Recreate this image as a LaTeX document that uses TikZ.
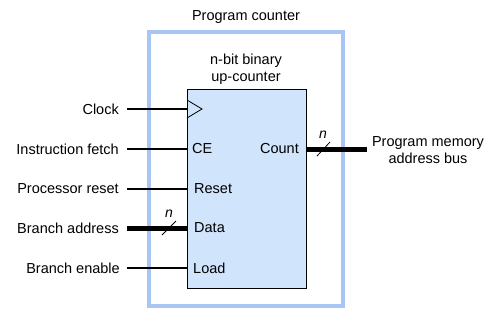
\documentclass[tikz,border=0pt]{standalone}
\usepackage{fontspec}
\setmainfont{Liberation Sans}
\begin{document}
\begin{tikzpicture}[x=1pt,y=-1pt,
  lbl/.style={font=\fontsize{14.5}{17}\selectfont, inner sep=0pt},
  sig/.style={line width=2pt},
  bus/.style={line width=5pt},
  slash/.style={line width=0.8pt},
  nlbl/.style={font=\fontsize{14}{15}\selectfont\itshape, inner sep=0pt}]
\useasboundingbox (0,0) rectangle (500,325);
\definecolor{outerblue}{HTML}{A9C5F5}
\definecolor{innerblue}{HTML}{D0E4FB}
% outer frame
\node[draw=outerblue, line width=4.5pt, minimum width=194pt, minimum height=274pt, inner sep=0pt] (pc) at (246,169) {};
\node[lbl] (pctitle) at (246,17) {Program counter};
% counter box
\node[draw=black, line width=0.8pt, fill=innerblue, minimum width=119pt, minimum height=199pt, inner sep=0pt] (cnt) at (246.5,189) {};
\node[lbl, align=center] (cnttitle) at (246,69) {n-bit binary\\up-counter};
% clock triangle
\coordinate (ck) at (187,109);
\draw[line width=0.8pt] (187,100) -- (202,109) -- (187,118);
% input port labels
\node[lbl, anchor=west] (ce) at (192,149) {CE};
\node[lbl, anchor=west] (rst) at (194,189) {Reset};
\node[lbl, anchor=west] (data) at (194,228) {Data};
\node[lbl, anchor=west] (load) at (193,268) {Load};
\node[lbl, anchor=east] (count) at (299,149) {Count};
% left labels
\node[lbl, anchor=east] (lclk) at (119,109) {Clock};
\node[lbl, anchor=east] (lif) at (119,149) {Instruction fetch};
\node[lbl, anchor=east] (lpr) at (119,189) {Processor reset};
\node[lbl, anchor=east] (lba) at (119,228) {Branch address};
\node[lbl, anchor=east] (lbe) at (120,268) {Branch enable};
% coordinates for connector ends
\coordinate (sclk) at (127,109);
\coordinate (sif) at (127,149);
\coordinate (spr) at (127,189);
\coordinate (sba) at (127,228);
\coordinate (sbe) at (127,268);
\coordinate (pin1) at (187,149);
\coordinate (pin2) at (187,189);
\coordinate (pin3) at (187,228);
\coordinate (pin4) at (187,268);
\draw[sig] (sclk) -- (ck);
\draw[sig] (sif) -- (pin1);
\draw[sig] (spr) -- (pin2);
\draw[bus] (sba) -- (pin3);
\draw[sig] (sbe) -- (pin4);
% data bus slash
\draw[slash] (162,235) -- (176,221);
\node[nlbl] (n1) at (169,214) {n};
% output bus
\coordinate (cout) at (306,149);
\coordinate (bend) at (367,149);
\draw[bus] (cout) -- (bend);
\draw[slash] (317,156) -- (330,142);
\node[nlbl] (n2) at (323,135) {n};
\node[lbl, align=center] (pmab) at (428,150) {Program memory\\address bus};
\end{tikzpicture}
\end{document}
